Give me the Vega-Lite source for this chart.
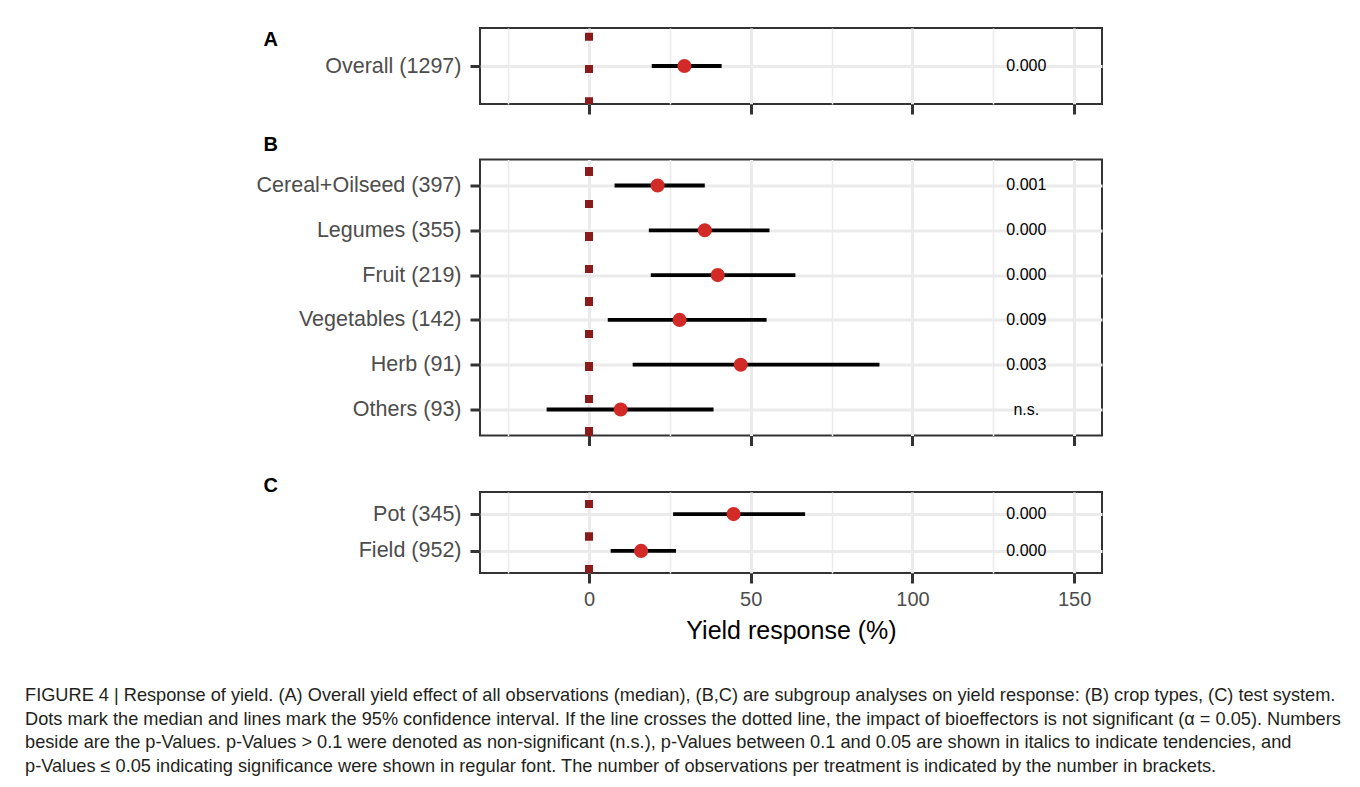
{
  "$schema": "https://vega.github.io/schema/vega-lite/v6.json",
  "background": "white",
  "padding": {"left": 25, "top": 23, "right": 5, "bottom": 5},
  "datasets": {
    "yield": [
      {"panel": "A", "group": "Overall (1297)", "median": 29.5, "lo": 19.4, "hi": 41.0, "p": "0.000"},
      {"panel": "B", "group": "Cereal+Oilseed (397)", "median": 21.2, "lo": 7.9, "hi": 35.8, "p": "0.001"},
      {"panel": "B", "group": "Legumes (355)", "median": 35.8, "lo": 18.5, "hi": 55.8, "p": "0.000"},
      {"panel": "B", "group": "Fruit (219)", "median": 39.8, "lo": 19.1, "hi": 63.8, "p": "0.000"},
      {"panel": "B", "group": "Vegetables (142)", "median": 28.0, "lo": 5.8, "hi": 54.9, "p": "0.009"},
      {"panel": "B", "group": "Herb (91)", "median": 46.9, "lo": 13.5, "hi": 89.8, "p": "0.003"},
      {"panel": "B", "group": "Others (93)", "median": 9.8, "lo": -13.1, "hi": 38.5, "p": "n.s."},
      {"panel": "C", "group": "Pot (345)", "median": 44.7, "lo": 26.0, "hi": 66.8, "p": "0.000"},
      {"panel": "C", "group": "Field (952)", "median": 16.1, "lo": 6.7, "hi": 26.9, "p": "0.000"}
    ]
  },
  "title": {
    "text": [
      "FIGURE 4 | Response of yield. (A) Overall yield effect of all observations (median), (B,C) are subgroup analyses on yield response: (B) crop types, (C) test system.",
      "Dots mark the median and lines mark the 95% confidence interval. If the line crosses the dotted line, the impact of bioeffectors is not significant (α = 0.05). Numbers",
      "beside are the p-Values. p-Values > 0.1 were denoted as non-significant (n.s.), p-Values between 0.1 and 0.05 are shown in italics to indicate tendencies, and",
      "p-Values ≤ 0.05 indicating significance were shown in regular font. The number of observations per treatment is indicated by the number in brackets."
    ],
    "orient": "bottom",
    "anchor": "start",
    "frame": "bounds",
    "dx": -230,
    "offset": 43,
    "font": "Liberation Sans",
    "fontSize": 18.2,
    "fontWeight": "normal",
    "color": "#231F20",
    "lineHeight": 23.5
  },
  "spacing": 16.5,
  "vconcat": [
    {
      "width": 622,
      "height": 76,
      "data": {"name": "yield"},
      "transform": [{"filter": "datum.panel === 'A'"}],
      "layer": [
        {
          "mark": {"type": "rule", "color": "#8B1A1A", "strokeWidth": 8, "strokeDash": [8, 24.3], "strokeDashOffset": 27.6, "strokeCap": "butt"},
          "encoding": {
            "x": {"datum": 0, "type": "quantitative", "title": null,
              "scale": {"domain": [-33.7, 158.6], "nice": false, "zero": false},
              "axis": {"values": [-25, 0, 25, 50, 75, 100, 125, 150], "labels": false, "title": null, "grid": true,
                "gridWidth": {"condition": {"test": "datum.value % 50 === 0", "value": 3}, "value": 1.5},
                "tickOpacity": {"condition": {"test": "datum.value % 50 === 0", "value": 1}, "value": 0}}
            }
          }
        },
        {
          "mark": {"type": "rule", "color": "black", "strokeWidth": 3.8},
          "encoding": {
            "x": {"field": "lo", "type": "quantitative", "title": null, "scale": {"domain": [-33.7, 158.6], "nice": false, "zero": false}},
            "x2": {"field": "hi"},
            "y": {"field": "group", "type": "nominal", "sort": null, "scale": {"type": "point", "padding": 0.6},
              "axis": {"title": "A", "titleAngle": 0, "titleFontSize": 20, "titleFontWeight": "bold", "titleColor": "black", "titleX": -217, "titleY": 11, "titleAlign": "left", "titleBaseline": "middle",
                "grid": true, "gridWidth": 3, "labelFontSize": 21.5, "labelPadding": 9, "labelLimit": 400}}
          }
        },
        {
          "mark": {"type": "point", "filled": true, "shape": "circle", "size": 200, "color": "#D22B27", "opacity": 1},
          "encoding": {
            "x": {"field": "median", "type": "quantitative", "title": null},
            "y": {"field": "group", "type": "nominal", "sort": null}
          }
        },
        {
          "mark": {"type": "text", "font": "Liberation Sans", "fontSize": 16, "color": "black", "align": "center", "baseline": "middle"},
          "encoding": {
            "x": {"datum": 135.2, "type": "quantitative"},
            "y": {"field": "group", "type": "nominal", "sort": null},
            "text": {"field": "p"}
          }
        }
      ]
    },
    {
      "width": 622,
      "height": 276,
      "data": {"name": "yield"},
      "transform": [{"filter": "datum.panel === 'B'"}],
      "layer": [
        {
          "mark": {"type": "rule", "color": "#8B1A1A", "strokeWidth": 8, "strokeDash": [8, 24.5], "strokeDashOffset": 24.5, "strokeCap": "butt"},
          "encoding": {
            "x": {"datum": 0, "type": "quantitative", "title": " ",
              "scale": {"domain": [-33.7, 158.6], "nice": false, "zero": false},
              "axis": {"values": [-25, 0, 25, 50, 75, 100, 125, 150], "labels": false, "title": " ", "titleFontSize": 9, "titlePadding": 0, "grid": true,
                "gridWidth": {"condition": {"test": "datum.value % 50 === 0", "value": 3}, "value": 1.5},
                "tickOpacity": {"condition": {"test": "datum.value % 50 === 0", "value": 1}, "value": 0}}
            }
          }
        },
        {
          "mark": {"type": "rule", "color": "black", "strokeWidth": 3.8},
          "encoding": {
            "x": {"field": "lo", "type": "quantitative", "title": " ", "scale": {"domain": [-33.7, 158.6], "nice": false, "zero": false}},
            "x2": {"field": "hi"},
            "y": {"field": "group", "type": "nominal", "sort": null, "scale": {"type": "point", "padding": 0.58},
              "axis": {"title": "B", "titleAngle": 0, "titleFontSize": 20, "titleFontWeight": "bold", "titleColor": "black", "titleX": -217, "titleY": -15, "titleAlign": "left", "titleBaseline": "middle",
                "grid": true, "gridWidth": 3, "labelFontSize": 21.5, "labelPadding": 9, "labelLimit": 400}}
          }
        },
        {
          "mark": {"type": "point", "filled": true, "shape": "circle", "size": 200, "color": "#D22B27", "opacity": 1},
          "encoding": {
            "x": {"field": "median", "type": "quantitative", "title": " "},
            "y": {"field": "group", "type": "nominal", "sort": null}
          }
        },
        {
          "mark": {"type": "text", "font": "Liberation Sans", "fontSize": 16, "color": "black", "align": "center", "baseline": "middle"},
          "encoding": {
            "x": {"datum": 135.2, "type": "quantitative"},
            "y": {"field": "group", "type": "nominal", "sort": null},
            "text": {"field": "p"}
          }
        }
      ]
    },
    {
      "width": 622,
      "height": 81,
      "data": {"name": "yield"},
      "transform": [{"filter": "datum.panel === 'C'"}],
      "layer": [
        {
          "mark": {"type": "rule", "color": "#8B1A1A", "strokeWidth": 8, "strokeDash": [8, 24.5], "strokeDashOffset": 24.5, "strokeCap": "butt"},
          "encoding": {
            "x": {"datum": 0, "type": "quantitative", "title": "Yield response (%)",
              "scale": {"domain": [-33.7, 158.6], "nice": false, "zero": false},
              "axis": {"values": [-25, 0, 25, 50, 75, 100, 125, 150], "title": "Yield response (%)", "grid": true,
                "labelExpr": "datum.value % 50 === 0 ? datum.label : ''", "labelFontSize": 20, "labelPadding": 6, "labelFlush": false, "labelOverlap": false,
                "titleFontSize": 25, "titlePadding": 9, "titleColor": "black",
                "gridWidth": {"condition": {"test": "datum.value % 50 === 0", "value": 3}, "value": 1.5},
                "tickOpacity": {"condition": {"test": "datum.value % 50 === 0", "value": 1}, "value": 0}}
            }
          }
        },
        {
          "mark": {"type": "rule", "color": "black", "strokeWidth": 3.8},
          "encoding": {
            "x": {"field": "lo", "type": "quantitative", "title": "Yield response (%)", "scale": {"domain": [-33.7, 158.6], "nice": false, "zero": false}},
            "x2": {"field": "hi"},
            "y": {"field": "group", "type": "nominal", "sort": null, "scale": {"type": "point", "padding": 0.6},
              "axis": {"title": "C", "titleAngle": 0, "titleFontSize": 20, "titleFontWeight": "bold", "titleColor": "black", "titleX": -217, "titleY": -7, "titleAlign": "left", "titleBaseline": "middle",
                "grid": true, "gridWidth": 3, "labelFontSize": 21.5, "labelPadding": 9, "labelLimit": 400}}
          }
        },
        {
          "mark": {"type": "point", "filled": true, "shape": "circle", "size": 200, "color": "#D22B27", "opacity": 1},
          "encoding": {
            "x": {"field": "median", "type": "quantitative", "title": "Yield response (%)"},
            "y": {"field": "group", "type": "nominal", "sort": null}
          }
        },
        {
          "mark": {"type": "text", "font": "Liberation Sans", "fontSize": 16, "color": "black", "align": "center", "baseline": "middle"},
          "encoding": {
            "x": {"datum": 135.2, "type": "quantitative"},
            "y": {"field": "group", "type": "nominal", "sort": null},
            "text": {"field": "p"}
          }
        }
      ]
    }
  ],
  "config": {
    "font": "Liberation Sans",
    "view": {"stroke": "#333333", "strokeWidth": 2},
    "axis": {"domain": false, "gridColor": "#EBEBEB", "tickColor": "#333333", "tickWidth": 3, "tickSize": 10,
      "labelFont": "Liberation Sans", "labelColor": "#4D4D4D", "titleFont": "Liberation Sans", "titleColor": "black", "titleFontWeight": "normal"}
  }
}
